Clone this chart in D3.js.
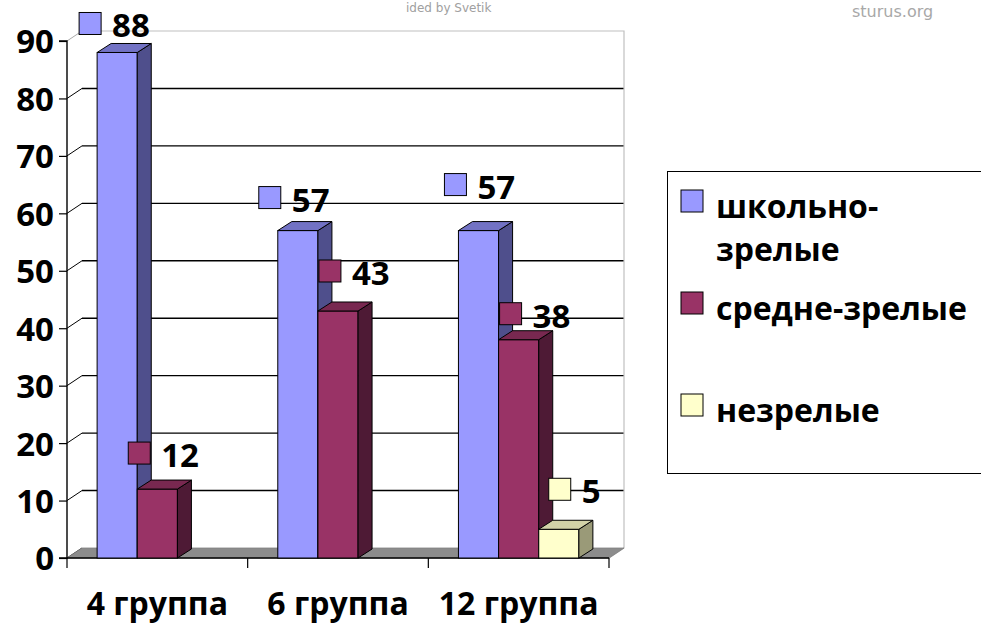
<!DOCTYPE html>
<html><head><meta charset="utf-8">
<script src="https://cdn.jsdelivr.net/npm/d3@7"></script>
<style>
html,body{margin:0;padding:0;background:#fff;}
svg{display:block;}
text{font-family:"Open Sans","Noto Sans",sans-serif;font-weight:700;}
</style></head>
<body>
<svg id="chart" width="981" height="624"></svg>
<script>
// ---- data ----
const categories = ["4 группа", "6 группа", "12 группа"];
const seriesNames = ["школьно-зрелые", "средне-зрелые", "незрелые"];
const schoolMature = [88, 57, 57];
const midMature = [12, 43, 38];
const immature = [0, 0, 5];
const yTicks = [0, 10, 20, 30, 40, 50, 60, 70, 80, 90];
const legendLines = [["школьно-", "зрелые"], ["средне-зрелые"], ["незрелые"]];

// ---- styling / layout ----
const seriesValues = [schoolMature, midMature, immature];
const colors = [
  {front: "#9999ff", side: "#4f4f8c", top: "#7272c4"},
  {front: "#993366", side: "#4e1a35", top: "#782850"},
  {front: "#ffffcc", side: "#9a9a78", top: "#d2d2a8"}
];
// manual nudges of data labels (relative to bar front-left/top), as in the source
const labelNudge = [
  [[-18, -40], [-9, -47], [0, 0]],
  [[-19, -44], [1, -51], [0, 0]],
  [[-14, -57], [1, -37], [10, -51]]
];

const svg = d3.select("#chart");
const DX = 15, DY = -10;      // wall depth
const BDX = 14, BDY = -9;     // bar depth

const y = d3.scaleLinear().domain([0, 90]).range([558, 41]);
const x0 = d3.scaleBand().domain(categories).range([67, 609]);
const x1 = d3.scaleBand().domain(seriesNames).range([0, x0.bandwidth()]).paddingOuter(0.75).paddingInner(0);

const left = x0.range()[0], right = x0.range()[1];
const y0 = y(0), yTop = y(90);

// back wall grid lines
const g = svg.append("g");
yTicks.filter(v => v > 0 && v < 90).forEach(v => {
  g.append("line").attr("x1", left + DX).attr("x2", right + DX)
    .attr("y1", y(v) + DY).attr("y2", y(v) + DY)
    .attr("stroke", "#000").attr("stroke-width", 1.4);
});
// top & right border of back wall (gray)
g.append("polyline")
  .attr("points", [[left + DX, yTop + DY], [right + DX, yTop + DY], [right + DX, y0 + DY], [right, y0]].join(" "))
  .attr("fill", "none").attr("stroke", "#c0c0c0").attr("stroke-width", 1.2);
// diagonal side-wall ticks
yTicks.forEach(v => {
  g.append("line").attr("x1", left).attr("x2", left + DX)
    .attr("y1", y(v)).attr("y2", y(v) + DY)
    .attr("stroke", v === 90 ? "#aaa" : "#000").attr("stroke-width", 1);
});
// floor
g.append("polygon")
  .attr("points", [[left, y0], [right, y0], [right + DX, y0 + DY], [left + DX, y0 + DY]].join(" "))
  .attr("fill", "#8c8c8c").attr("stroke", "#808080").attr("stroke-width", 0.8);

// axes
const yAxis = d3.axisLeft(y).tickValues(yTicks).tickSize(8).tickPadding(5);
const ya = svg.append("g").attr("transform", `translate(${left},0)`).call(yAxis);
ya.select(".domain").attr("stroke", "#000").attr("stroke-width", 1.4).attr("d", `M-8,${y0}H0V${yTop}H-8`);
ya.selectAll(".tick line").attr("stroke", "#000").attr("stroke-width", 1.2);
ya.selectAll(".tick text").style("font-size", "33px").style("font-family", "'Open Sans',sans-serif")
  .style("font-weight", 700).style("fill", "#000").attr("dy", "0.36em");

const xAxis = d3.axisBottom(x0).tickSize(0).tickPadding(0);
const xa = svg.append("g").attr("transform", `translate(0,${y0})`).call(xAxis);
xa.select(".domain").attr("stroke", "#000").attr("stroke-width", 1.4).attr("d", `M${left},0H${right}`);
xa.selectAll(".tick text").style("font-size", "32px").style("font-family", "'Open Sans',sans-serif")
  .style("font-weight", 700).style("fill", "#000").attr("dy", null).attr("y", 57);
// category boundary ticks
[left, ...categories.map(c => x0(c) + x0.bandwidth())].forEach(xx => {
  xa.append("line").attr("x1", xx).attr("x2", xx).attr("y1", 0).attr("y2", 10)
    .attr("stroke", "#000").attr("stroke-width", 1.2);
});

// bars
const bars = svg.append("g");
categories.forEach((c, ci) => {
  seriesNames.forEach((s, si) => {
    const v = seriesValues[si][ci];
    if (!v) return;
    const bx = x0(c) + x1(s), bw = x1.bandwidth();
    const by = y(v);
    const col = colors[si];
    bars.append("rect").attr("x", bx).attr("y", by).attr("width", bw).attr("height", y0 - by)
      .attr("fill", col.front).attr("stroke", "#000").attr("stroke-width", 1);
    bars.append("polygon")
      .attr("points", [[bx + bw, by], [bx + bw + BDX, by + BDY], [bx + bw + BDX, y0 + BDY], [bx + bw, y0]].join(" "))
      .attr("fill", col.side).attr("stroke", "#000").attr("stroke-width", 1).attr("stroke-linejoin", "round");
    bars.append("polygon")
      .attr("points", [[bx, by], [bx + BDX, by + BDY], [bx + bw + BDX, by + BDY], [bx + bw, by]].join(" "))
      .attr("fill", col.top).attr("stroke", "#000").attr("stroke-width", 1).attr("stroke-linejoin", "round");
  });
});

// data labels (legend key + value)
const labels = svg.append("g");
categories.forEach((c, ci) => {
  seriesNames.forEach((s, si) => {
    const v = seriesValues[si][ci];
    if (!v) return;
    const [nx, ny] = labelNudge[ci][si];
    const sx = x0(c) + x1(s) + nx, sy = y(v) + ny;
    labels.append("rect").attr("x", sx).attr("y", sy).attr("width", 22).attr("height", 22)
      .attr("fill", colors[si].front).attr("stroke", "#000").attr("stroke-width", 1);
    labels.append("text").attr("x", sx + 33).attr("y", sy + 25)
      .style("font-size", "33px").style("fill", "#000").text(v);
  });
});

// legend
const lg = svg.append("g");
lg.append("rect").attr("x", 667.5).attr("y", 171.5).attr("width", 340).attr("height", 302)
  .attr("fill", "#fff").attr("stroke", "#000").attr("stroke-width", 1);
const keyTops = [190, 292, 394];
seriesNames.forEach((s, i) => {
  lg.append("rect").attr("x", 681).attr("y", keyTops[i]).attr("width", 22).attr("height", 22)
    .attr("fill", colors[i].front).attr("stroke", "#000").attr("stroke-width", 1);
  legendLines[i].forEach((t, li) => {
    lg.append("text").attr("x", 716).attr("y", keyTops[i] + 28 + li * 43)
      .style("font-size", "32px").style("fill", "#000").text(t);
  });
});

// watermarks
svg.append("text").attr("x", 406).attr("y", 12).style("font-size", "12px").style("font-weight", 400)
  .style("font-family", "'DejaVu Sans',sans-serif").style("fill", "#a0a0a0").text("ided by Svetik");
svg.append("text").attr("x", 852).attr("y", 17).style("font-size", "16px").style("font-weight", 400)
  .style("font-family", "'DejaVu Sans',sans-serif").style("fill", "#a8a8a8").text("sturus.org");
</script>
</body></html>
